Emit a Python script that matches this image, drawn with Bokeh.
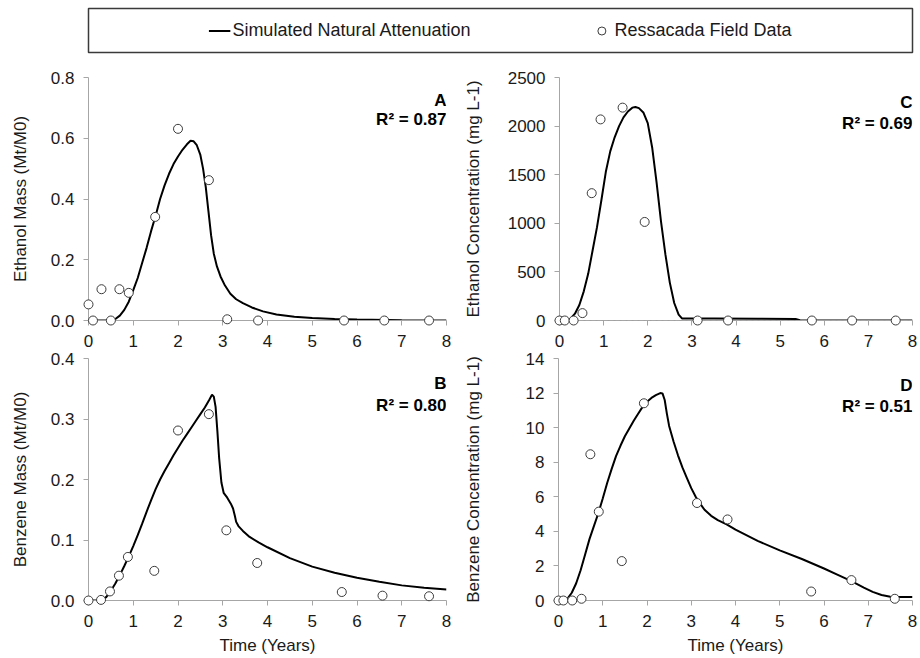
from bokeh.plotting import figure
from bokeh.layouts import column, row
from bokeh.models import (Range1d, FixedTicker, NumeralTickFormatter, Label,
                          Legend, LegendItem, Span)
from bokeh.embed import file_html
from bokeh.resources import INLINE

FONT = "Liberation Sans"

# ---------------- data ----------------
x_ticks = [0, 1, 2, 3, 4, 5, 6, 7, 8]

# Panel A: Ethanol mass (Mt/M0)
obs_t_A = [0, 0.1, 0.29, 0.5, 0.69, 0.9, 1.49, 2.0, 2.69, 3.1, 3.79, 5.71, 6.61, 7.61]
obs_A = [0.053, 0.0, 0.103, 0.0, 0.103, 0.091, 0.341, 0.631, 0.462, 0.004, 0.0, 0.0, 0.0, 0.0]
sim_t_A = [0, 0.5, 0.6, 0.7, 0.8, 0.9, 1.0, 1.1, 1.2, 1.3, 1.4, 1.5, 1.6, 1.7, 1.8,
           1.9, 2.0, 2.1, 2.2, 2.28, 2.35, 2.42, 2.5, 2.56, 2.62, 2.68, 2.74, 2.8, 2.87, 2.95,
           3.05, 3.17, 3.3, 3.45, 3.65, 3.9, 4.2, 4.6, 5.0, 5.5, 6.0, 7.0, 8.0]
sim_A = [0, 0, 0.005, 0.016, 0.035, 0.062, 0.1, 0.14, 0.19, 0.24, 0.295, 0.345, 0.4, 0.445, 0.483,
         0.515, 0.54, 0.562, 0.58, 0.592, 0.59, 0.577, 0.545, 0.5, 0.44, 0.36, 0.28, 0.22, 0.178, 0.145,
         0.115, 0.088, 0.07, 0.057, 0.043, 0.03, 0.02, 0.012, 0.008, 0.005, 0.003, 0.001, 0.0]
ticks_A = [0, 0.2, 0.4, 0.6, 0.8]

# Panel C: Ethanol concentration (mg L-1)
obs_t_C = [0, 0.12, 0.32, 0.52, 0.73, 0.93, 1.43, 1.93, 3.13, 3.82, 5.72, 6.63, 7.62]
obs_C = [0, 0, 0, 76, 1310, 2069, 2190, 1014, 0, 0, 0, 0, 0]
sim_t_C = [0, 0.15, 0.25, 0.35, 0.45, 0.55, 0.65, 0.75, 0.85, 0.95, 1.05, 1.15, 1.25, 1.35,
           1.45, 1.55, 1.65, 1.72, 1.8, 1.9, 2.0, 2.1, 2.2, 2.3, 2.4, 2.5, 2.6, 2.7, 2.78,
           3.5, 4.5, 5.35, 5.45, 6.5, 8.0]
sim_C = [0, 0, 20, 70, 160, 300, 480, 720, 960, 1240, 1530, 1740, 1885, 2000,
         2090, 2150, 2190, 2197, 2185, 2140, 2030, 1780, 1420, 1020, 680, 390, 180, 60, 20,
         20, 18, 15, 2, 1, 0]
ticks_C = [0, 500, 1000, 1500, 2000, 2500]

# Panel B: Benzene mass (Mt/M0)
obs_t_B = [0, 0.28, 0.48, 0.68, 0.88, 1.47, 2.0, 2.69, 3.08, 3.77, 5.66, 6.57, 7.61]
obs_B = [0.0, 0.001, 0.015, 0.041, 0.072, 0.049, 0.281, 0.308, 0.116, 0.062, 0.014, 0.008, 0.007]
sim_t_B = [0, 0.3, 0.4, 0.5, 0.6, 0.7, 0.8, 0.9, 1.0, 1.1, 1.2, 1.3, 1.4, 1.5, 1.6,
           1.7, 1.8, 1.9, 2.0, 2.1, 2.2, 2.3, 2.4, 2.5, 2.6, 2.7, 2.76, 2.8, 2.84, 2.88,
           2.92, 2.97, 3.02, 3.1, 3.18, 3.23, 3.27, 3.3, 3.35, 3.45, 3.6, 3.8, 4.0, 4.5, 5.0,
           5.5, 6.0, 6.5, 7.0, 7.5, 8.0]
sim_B = [0, 0, 0.006, 0.016, 0.028, 0.042, 0.057, 0.073, 0.09, 0.108, 0.127, 0.147, 0.166, 0.184, 0.2,
         0.214, 0.227, 0.24, 0.252, 0.264, 0.275, 0.286, 0.297, 0.308, 0.319, 0.332, 0.34, 0.337, 0.32, 0.28,
         0.235, 0.195, 0.178, 0.17, 0.16, 0.152, 0.14, 0.13, 0.123, 0.115, 0.105, 0.096, 0.088, 0.07, 0.056,
         0.046, 0.0375, 0.031, 0.025, 0.021, 0.018]
ticks_B = [0, 0.1, 0.2, 0.3, 0.4]

# Panel D: Benzene concentration (mg L-1)
obs_t_D = [0, 0.11, 0.31, 0.52, 0.72, 0.91, 1.43, 1.93, 3.13, 3.82, 5.71, 6.62, 7.6]
obs_D = [0, 0, 0, 0.1, 8.46, 5.14, 2.28, 11.41, 5.64, 4.69, 0.52, 1.18, 0.1]
sim_t_D = [0, 0.13, 0.2, 0.3, 0.4, 0.5, 0.6, 0.7, 0.8, 0.9, 1.0, 1.1, 1.2, 1.3, 1.4,
           1.5, 1.6, 1.7, 1.8, 1.9, 2.0, 2.1, 2.2, 2.3, 2.35, 2.4, 2.45, 2.5, 2.6, 2.7,
           2.8, 2.9, 3.0, 3.1, 3.2, 3.3, 3.45, 3.6, 3.8, 4.0, 4.5, 5.0, 5.5, 6.0, 6.3,
           6.62, 6.9, 7.1, 7.3, 7.5, 7.7, 8.0]
sim_D = [0, 0, 0.1, 0.45, 1.0, 1.75, 2.65, 3.55, 4.3, 5.05, 5.9, 6.8, 7.6, 8.35, 8.95,
         9.5, 9.95, 10.4, 10.8, 11.2, 11.5, 11.72, 11.88, 12.0, 11.98, 11.6, 10.8, 10.1, 9.2, 8.4,
         7.7, 7.1, 6.5, 6.0, 5.6, 5.25, 4.9, 4.65, 4.4, 4.1, 3.45, 2.9, 2.4, 1.85, 1.5,
         1.12, 0.75, 0.5, 0.32, 0.22, 0.2, 0.2]
ticks_D = [0, 2, 4, 6, 8, 10, 12, 14]

legend_labels = ["Simulated Natural Attenuation", "Ressacada Field Data"]

AXIS_COL = "#a6a6a6"
TXT_COL = "#1a1a1a"


def style_axes(p, yfmt, yticks, ylabel, ylabel_standoff, xlabel=None):
    for ax in (p.xaxis[0], p.yaxis[0]):
        ax.axis_line_color = AXIS_COL
        ax.axis_line_width = 1
        ax.major_tick_line_color = AXIS_COL
        ax.major_tick_out = 5
        ax.major_tick_in = 0
        ax.minor_tick_line_color = None
        ax.major_label_text_font = FONT
        ax.major_label_text_font_size = "17px"
        ax.major_label_text_color = TXT_COL
        ax.axis_label_text_font = FONT
        ax.axis_label_text_font_size = "17px"
        ax.axis_label_text_font_style = "normal"
        ax.axis_label_text_color = TXT_COL
    p.xaxis[0].ticker = FixedTicker(ticks=x_ticks)
    p.xaxis[0].major_label_standoff = 9
    p.yaxis[0].ticker = FixedTicker(ticks=yticks)
    p.yaxis[0].formatter = NumeralTickFormatter(format=yfmt)
    p.yaxis[0].major_label_standoff = 9
    p.yaxis[0].axis_label = ylabel
    p.yaxis[0].axis_label_standoff = ylabel_standoff
    if xlabel:
        p.xaxis[0].axis_label = xlabel
        p.xaxis[0].axis_label_standoff = 6


def panel(st, sv, ot, ov, ymax, yticks, yfmt, ylabel, ylstand, letter, r2txt,
          ly, ry, width, height, bl, br, bt, bb, xlabel=None, zero_line=False):
    p = figure(width=width, height=height, x_range=Range1d(0, 8), y_range=Range1d(0, ymax),
               output_backend="svg", toolbar_location=None,
               min_border_left=bl, min_border_right=br, min_border_top=bt, min_border_bottom=bb)
    p.outline_line_color = None
    p.grid.visible = False
    p.background_fill_color = "white"
    p.border_fill_color = None
    style_axes(p, yfmt, yticks, ylabel, ylstand, xlabel)
    if zero_line:
        p.add_layout(Span(location=0, dimension="width", line_color="#9a9a9a",
                          line_dash="dotted", line_width=1.2))
    p.line(st, sv, line_color="black", line_width=2)
    p.scatter(ot, ov, marker="circle", size=9, fill_color="white", line_color="#3c3c3c",
              line_width=1, level="overlay")
    p.add_layout(Label(x=8, y=ly, text=letter, text_align="right", text_baseline="middle",
                       text_font=FONT, text_font_size="17px", text_font_style="bold",
                       text_color="black"))
    p.add_layout(Label(x=8, y=ry, text=r2txt, text_align="right", text_baseline="middle",
                       text_font=FONT, text_font_size="17px", text_font_style="bold",
                       text_color="black"))
    return p


LEG_H, TOP_H, OVERLAP, BOT_H = 56, 300, 12, 314

pA = panel(sim_t_A, sim_A, obs_t_A, obs_A, 0.8, ticks_A, "0.0", "Ethanol Mass (Mt/M0)", 18,
           "A", "R\u00b2 = 0.87", 0.724, 0.662, 460, TOP_H, 88, 14, 21, 36)
pC = panel(sim_t_C, sim_C, obs_t_C, obs_C, 2500, ticks_C, "0", "Ethanol Concentration (mg L-1)", 22,
           "C", "R\u00b2 = 0.69", 2243, 2027, 460, TOP_H, 94, 8, 21, 36, zero_line=True)
pB = panel(sim_t_B, sim_B, obs_t_B, obs_B, 0.4, ticks_B, "0.0", "Benzene Mass (Mt/M0)", 18,
           "B", "R\u00b2 = 0.80", 0.3587, 0.322, 460, BOT_H, 88, 14, 14, 58, xlabel="Time (Years)")
pD = panel(sim_t_D, sim_D, obs_t_D, obs_D, 14, ticks_D, "0", "Benzene Concentration (mg L-1)", 40,
           "D", "R\u00b2 = 0.51", 12.44, 11.22, 460, BOT_H, 94, 8, 14, 58, xlabel="Time (Years)")

# legend strip (its renderers hold panel A's series but sit outside the visible range)
lg = figure(width=920, height=LEG_H, x_range=Range1d(100, 101), y_range=Range1d(100, 101),
            x_axis_location=None, y_axis_location=None, output_backend="svg",
            toolbar_location=None, min_border_left=88, min_border_right=8,
            min_border_top=8, min_border_bottom=4)
lg.grid.visible = False
lg.outline_line_color = "#3a3a3a"
lg.outline_line_width = 1.5
r_line = lg.line(sim_t_A, sim_A, line_color="black", line_width=2)
r_pts = lg.scatter(obs_t_A, obs_A, marker="circle", size=8, fill_color="white", line_color="#3c3c3c")
legend = Legend(items=[LegendItem(label=legend_labels[0], renderers=[r_line]),
                       LegendItem(label=legend_labels[1], renderers=[r_pts])],
                orientation="horizontal", location="center", spacing=120, glyph_width=22,
                glyph_height=20, label_standoff=2, padding=0, margin=0,
                border_line_color=None, background_fill_alpha=0,
                label_text_font=FONT, label_text_font_size="18px", label_text_color=TXT_COL)
lg.add_layout(legend, "center")

top_row = row(pA, pC)
bottom_row = row(pB, pD, margin=(-OVERLAP, 0, 0, 0))
layout = column(lg, top_row, bottom_row)
open("out.html", "w").write(file_html(layout, INLINE))
